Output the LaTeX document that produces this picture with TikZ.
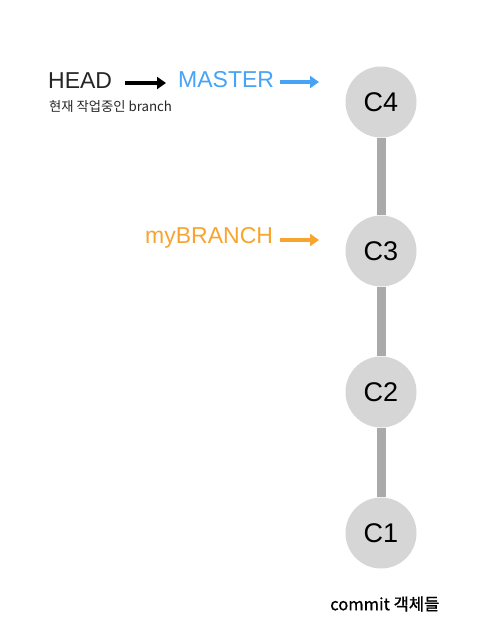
\documentclass[tikz,border=0pt]{standalone}
\usepackage{fontspec}
\setmainfont{Liberation Sans}
\newfontfamily\kr{Noto Sans CJK KR}
\newfontfamily\krb[FakeBold=0.9]{Noto Sans CJK KR}
\usetikzlibrary{arrows.meta}
\definecolor{cfill}{HTML}{D6D6D6}
\definecolor{cbar}{HTML}{AAAAAA}
\definecolor{mblue}{HTML}{46A3F5}
\definecolor{morange}{HTML}{F7A530}
\tikzset{
  commit/.style={circle, fill=cfill, minimum size=71pt, inner sep=0pt, font=\fontsize{27}{27}\selectfont},
  bar/.style={cbar, line width=9pt},
  ptr/.style={line width=3.5pt, -{Triangle[length=9pt,width=12pt]}},
  lbl/.style={inner sep=0pt, anchor=west, font=\fontsize{23}{23}\selectfont}
}
\begin{document}
\begin{tikzpicture}[x=1pt,y=-1pt]
\useasboundingbox (0,0) rectangle (483,630);
\fill[white] (0,0) rectangle (483,630);
\node[commit] (c4) at (381,102) {C4};
\node[commit] (c3) at (381,251) {C3};
\node[commit] (c2) at (381,392) {C2};
\node[commit] (c1) at (381,533) {C1};
\draw[bar] (c4.south) -- (c3.north);
\draw[bar] (c3.south) -- (c2.north);
\draw[bar] (c2.south) -- (c1.north);
\node[lbl, text=black!85] (head) at (48,81) {HEAD};
\node[lbl, text=mblue] (master) at (178,80) {MASTER};
\node[lbl, text=morange] (mybr) at (145,238) {myBRANCH};
\node[inner sep=0pt, anchor=west, font=\kr\fontsize{13.3}{14}\selectfont, text=black!85] (cur) at (49,107) {현재 작업중인 branch};
\node[inner sep=0pt, anchor=west, font=\krb\fontsize{16.6}{17}\selectfont] (objs) at (330,604) {commit 객체들};
\coordinate (a1s) at (125,83); \coordinate (a1e) at (166,83);
\coordinate (a2s) at (280,82); \coordinate (a2e) at (319,82);
\coordinate (a3s) at (280,240); \coordinate (a3e) at (319,240);
\draw[ptr, black] (a1s) -- (a1e);
\draw[ptr, mblue] (a2s) -- (a2e);
\draw[ptr, morange] (a3s) -- (a3e);
\end{tikzpicture}
\end{document}
